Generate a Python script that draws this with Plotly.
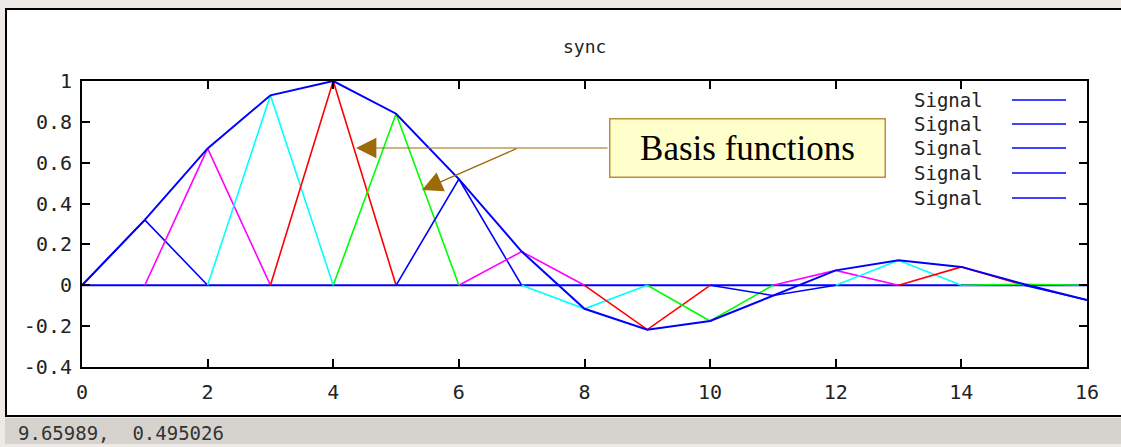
import plotly.graph_objects as go

# ---------------- data ----------------
sample_x = list(range(17))
sample_values = [0.0, 0.32, 0.67, 0.93, 1.0, 0.84, 0.52, 0.165, -0.115, -0.217,
                 -0.175, -0.05, 0.073, 0.122, 0.09, 0.005, -0.072]
basis_colors = ["#0000ff", "#ff00ff", "#00ffff", "#ff0000", "#00ff00"]
legend_labels = ["Signal", "Signal", "Signal", "Signal", "Signal"]
x_tick_vals = [0, 2, 4, 6, 8, 10, 12, 14, 16]
x_tick_text = ["0", "2", "4", "6", "8", "10", "12", "14", "16"]
y_tick_vals = [-0.4, -0.2, 0, 0.2, 0.4, 0.6, 0.8, 1.0]
y_tick_text = ["-0.4", "-0.2", "0", "0.2", "0.4", "0.6", "0.8", "1"]
title_text = "sync"
note_text = "Basis functions"
status_text = "9.65989,  0.495026"

# ---------------- layout geometry ----------------
W, H = 1121, 447
L, R, T, B = 82, 34, 81, 80
PW, PH = W - L - R, H - T - B
XMIN, XMAX, YMIN, YMAX = 0, 16, -0.4, 1.0


def pxx(x):  # pixel -> paper x
    return (x - L) / PW


def pxy(y):  # pixel -> paper y
    return (H - B - y) / PH


def dx(x):  # pixel -> data x
    return XMIN + (x - L) / PW * (XMAX - XMIN)


def dy(y):  # pixel -> data y
    return YMIN + (H - B - y) / PH * (YMAX - YMIN)


MONO = "DejaVu Sans Mono"

fig = go.Figure()

# zero line (all basis functions are zero outside their support)
fig.add_trace(go.Scatter(x=[sample_x[0], sample_x[-1]], y=[0, 0], mode="lines",
                         line=dict(color="#0000ff", width=2), showlegend=False,
                         hoverinfo="skip"))

# hat basis functions scaled by sample values
n = len(sample_x)
for k in range(1, n):
    xs, ys = [], []
    for j in (k - 1, k, k + 1):
        if 0 <= j < n:
            xs.append(sample_x[j])
            ys.append(sample_values[k] if j == k else 0.0)
    fig.add_trace(go.Scatter(x=xs, y=ys, mode="lines",
                             line=dict(color=basis_colors[(k - 1) % 5], width=1.6),
                             showlegend=False, hoverinfo="skip"))

# reconstructed signal (sum of basis functions)
fig.add_trace(go.Scatter(x=sample_x, y=sample_values, mode="lines",
                         line=dict(color="#0000ff", width=2), showlegend=False,
                         hoverinfo="skip"))

shapes = []
annotations = []

# window chrome
shapes.append(dict(type="rect", xref="paper", yref="paper", layer="below",
                   x0=pxx(6), x1=pxx(1130), y0=pxy(9), y1=pxy(416),
                   fillcolor="white", line=dict(color="black", width=2)))
shapes.append(dict(type="rect", xref="paper", yref="paper", layer="below",
                   x0=pxx(5), x1=pxx(1130), y0=pxy(418), y1=pxy(444),
                   fillcolor="#d6d3ce", line=dict(width=0)))

# manual gnuplot-style legend (text left, line sample right)
row_y = [100, 124, 148, 173, 198]
for lbl, ry in zip(legend_labels, row_y):
    annotations.append(dict(xref="paper", yref="paper", x=pxx(985), y=pxy(ry),
                            xanchor="right", yanchor="middle", showarrow=False,
                            text=lbl, font=dict(family=MONO, size=19, color="#222222")))
    shapes.append(dict(type="line", xref="paper", yref="paper",
                       x0=pxx(1012), x1=pxx(1066), y0=pxy(ry), y1=pxy(ry),
                       line=dict(color="#0000ff", width=1.6)))

# title
annotations.append(dict(xref="paper", yref="paper", x=0.5, y=pxy(46),
                        xanchor="center", yanchor="middle", showarrow=False,
                        text=title_text, font=dict(family=MONO, size=18, color="#222222")))

# status bar text
annotations.append(dict(xref="paper", yref="paper", x=pxx(16), y=pxy(433),
                        xanchor="left", yanchor="middle", showarrow=False,
                        text=status_text, font=dict(family=MONO, size=19, color="#333333")))

# note box
annotations.append(dict(xref="paper", yref="paper", x=pxx(747), y=pxy(148),
                        xanchor="center", yanchor="middle", showarrow=False,
                        text=note_text, width=274, height=57, borderpad=0,
                        bgcolor="#ffffcc", bordercolor="#b8903c", borderwidth=1.5,
                        font=dict(family="Liberation Serif", size=35, color="black")))

# arrows
arrow_col = "#9c6a06"
for (tx, ty), (sx, sy) in [((356, 148), (609, 148)), ((422, 190), (518, 148))]:
    annotations.append(dict(xref="x", yref="y", axref="x", ayref="y",
                            x=dx(tx), y=dy(ty), ax=dx(sx), ay=dy(sy),
                            text="", showarrow=True, arrowhead=2, arrowsize=3.4,
                            arrowwidth=1.2, arrowcolor=arrow_col, standoff=0,
                            startstandoff=0))

axis_common = dict(showline=True, linecolor="black", linewidth=2, mirror="allticks",
                   ticks="inside", ticklen=8, tickwidth=2, tickcolor="black",
                   showgrid=False, zeroline=False,
                   tickfont=dict(family=MONO, size=20, color="#222222"))

fig.update_layout(
    width=W, height=H,
    margin=dict(l=L, r=R, t=T, b=B),
    paper_bgcolor="#ece9e6", plot_bgcolor="white",
    showlegend=False,
    shapes=shapes, annotations=annotations,
    xaxis=dict(range=[XMIN, XMAX], tickvals=x_tick_vals, ticktext=x_tick_text,
               ticklabelstandoff=6, **axis_common),
    yaxis=dict(range=[YMIN, YMAX], tickvals=y_tick_vals, ticktext=y_tick_text,
               ticklabelstandoff=4, **axis_common),
)

fig.write_html("out.html",
               config={"displayModeBar": False},
               post_script="document.body.style.margin='0';"
                           "document.body.style.background='#ece9e6';")
